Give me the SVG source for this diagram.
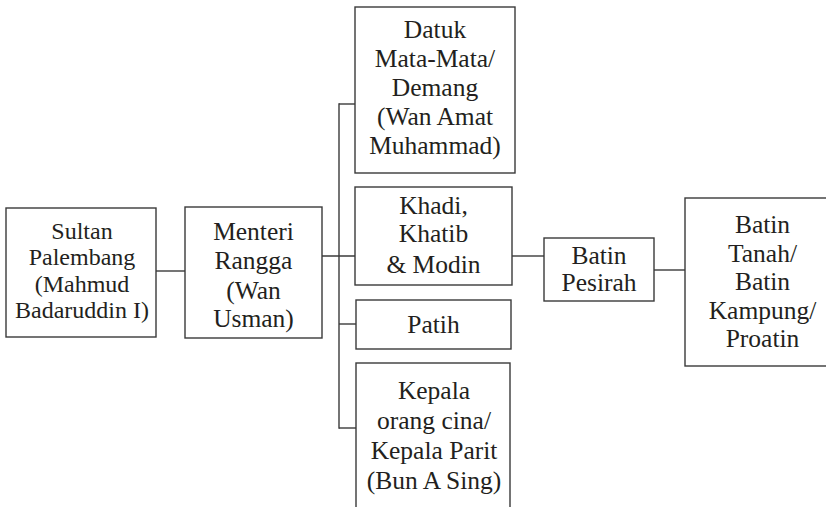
<svg xmlns="http://www.w3.org/2000/svg" width="826" height="507" viewBox="0 0 826 507">
<style>
rect{fill:#fff;stroke:#3a3a3a;stroke-width:1.4}
line{stroke:#3a3a3a;stroke-width:1.4}
text{font-family:'Liberation Serif','Times New Roman',serif;font-size:25.5px;fill:#231f20;text-anchor:middle}
.s{font-size:24px}
</style>
<rect x="0" y="0" width="826" height="507" style="stroke:none"/>
<g id="connectors">
<line x1="156" y1="271" x2="185" y2="271"/>
<line x1="322" y1="256" x2="355" y2="256"/>
<line x1="339" y1="103.3" x2="339" y2="428.7"/>
<line x1="339" y1="104" x2="355" y2="104"/>
<line x1="339" y1="324" x2="356" y2="324"/>
<line x1="339" y1="428" x2="356" y2="428"/>
<line x1="512" y1="256" x2="544" y2="256"/>
<line x1="654" y1="270" x2="685" y2="270"/>
</g>
<g id="sultan">
<rect x="6" y="208" width="150" height="129"/>
<text class="s" x="82" y="239">Sultan</text>
<text class="s" x="82" y="265">Palembang</text>
<text class="s" x="82" y="291.5">(Mahmud</text>
<text class="s" x="82" y="318">Badaruddin I)</text>
</g>
<g id="menteri">
<rect x="185" y="207" width="137" height="131"/>
<text x="253.5" y="239.5">Menteri</text>
<text x="253.5" y="269">Rangga</text>
<text x="253.5" y="298.5">(Wan</text>
<text x="253.5" y="327">Usman)</text>
</g>
<g id="datuk">
<rect x="355" y="7" width="160" height="166"/>
<text x="435" y="37.5">Datuk</text>
<text x="435" y="66.5">Mata-Mata/</text>
<text x="435" y="95.5">Demang</text>
<text x="435" y="125">(Wan Amat</text>
<text x="435" y="153.5">Muhammad)</text>
</g>
<g id="khadi">
<rect x="355" y="187" width="157" height="98"/>
<text x="433.5" y="213.5">Khadi,</text>
<text x="433.5" y="242">Khatib</text>
<text x="433.5" y="272.5">&amp; Modin</text>
</g>
<g id="patih">
<rect x="356" y="300" width="155" height="49"/>
<text x="433.5" y="332.5">Patih</text>
</g>
<g id="kepala">
<rect x="356" y="363" width="154" height="170"/>
<text x="434" y="398.5">Kepala</text>
<text x="434" y="428.5">orang cina/</text>
<text x="434" y="458.5">Kepala Parit</text>
<text x="434" y="488.5">(Bun A Sing)</text>
</g>
<g id="pesirah">
<rect x="544" y="238" width="110" height="63"/>
<text x="599" y="263.5">Batin</text>
<text x="599" y="291">Pesirah</text>
</g>
<g id="tanah">
<rect x="685" y="198" width="160" height="168"/>
<text x="762.5" y="233">Batin</text>
<text x="762.5" y="261.5">Tanah/</text>
<text x="762.5" y="290">Batin</text>
<text x="762.5" y="318.5">Kampung/</text>
<text x="762.5" y="347">Proatin</text>
</g>
</svg>
